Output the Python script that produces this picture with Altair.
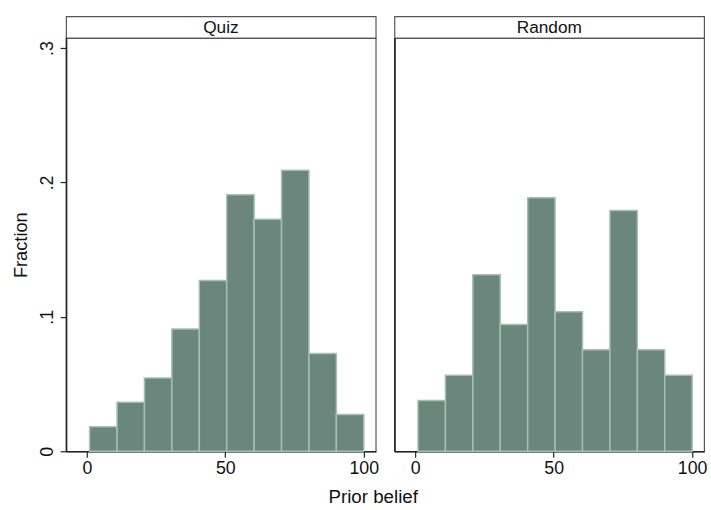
import altair as alt
import pandas as pd

FONT = "Liberation Sans"

panels = ["Quiz", "Random"]
bin_edges = [1.0, 10.9, 20.8, 30.7, 40.6, 50.5, 60.4, 70.3, 80.2, 90.1, 100.0]
quiz_frac = [0.0182, 0.0364, 0.0545, 0.0909, 0.1270, 0.1909, 0.1727, 0.2091, 0.0727, 0.0273]
random_frac = [0.0377, 0.0566, 0.1313, 0.0943, 0.1887, 0.1038, 0.0755, 0.1792, 0.0755, 0.0566]
x_ticks = [0, 50, 100]
y_ticks = [0, 0.1, 0.2, 0.3]

FILL = "#6b877d"
EDGE = "#a3c0b2"
AX = "#222222"

W, H, HH = 314, 419, 22


def panel(name, fracs, show_y):
    df = pd.DataFrame({"start": bin_edges[:-1], "end": bin_edges[1:], "frac": fracs})
    if show_y:
        yaxis = alt.Axis(values=y_ticks, title="Fraction",
                         labelExpr="datum.value === 0 ? '0' : '.' + round(datum.value*10)",
                         labelAngle=270, labelAlign="center", labelBaseline="bottom",
                         labelPadding=4, titlePadding=8)
    else:
        yaxis = alt.Axis(values=y_ticks, title=None, labels=False, ticks=False)
    bars = alt.Chart(df).mark_rect(fill=FILL, stroke=EDGE, strokeWidth=1.5).encode(
        x=alt.X("start:Q", scale=alt.Scale(domain=[-7.5, 104.3], nice=False, zero=False),
                axis=alt.Axis(values=x_ticks, title=None, labelPadding=3)),
        x2="end:Q",
        y=alt.Y("frac:Q", scale=alt.Scale(domain=[0, 0.3074], nice=False), axis=yaxis),
        y2=alt.datum(0),
    ).properties(width=W, height=H)
    header = alt.Chart(pd.DataFrame({"label": [name]})).mark_text(
        font=FONT, fontSize=17.5, color="#111", baseline="middle", align="center"
    ).encode(text="label:N", x=alt.value(W / 2), y=alt.value(HH / 2 + 1)).properties(width=W, height=HH)
    return alt.vconcat(header, bars, spacing=0, bounds="flush")


chart = alt.hconcat(
    panel(panels[0], quiz_frac, True),
    panel(panels[1], random_frac, False),
    spacing=14,
).properties(
    title=alt.TitleParams("Prior belief", orient="bottom", anchor="middle", fontSize=19,
                          fontWeight="normal", font=FONT, color="#111", offset=10, dx=14),
    padding={"left": 11, "top": 12, "right": 3, "bottom": 4},
    background="white",
).configure_view(
    stroke="#555555", strokeWidth=1.2
).configure_axis(
    domainColor=AX, domainWidth=1.6, tickColor=AX, tickWidth=1.2, tickSize=6,
    labelFont=FONT, labelFontSize=18, labelColor="#111", grid=False,
    titleFont=FONT, titleFontSize=18.5, titleFontWeight="normal", titleColor="#111",
).configure_concat(spacing=0)

chart.save("out.html", embed_options={"renderer": "svg", "actions": False})
